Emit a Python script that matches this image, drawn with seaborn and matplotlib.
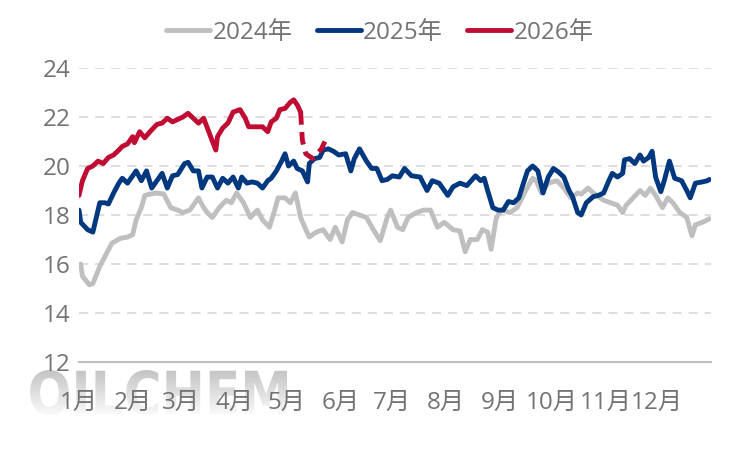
import numpy as np
import pandas as pd
import matplotlib
matplotlib.use('Agg')
import matplotlib.pyplot as plt
import seaborn as sns
from matplotlib.lines import Line2D
from matplotlib.textpath import TextPath
from matplotlib.patches import PathPatch
from matplotlib.font_manager import FontProperties
from matplotlib.transforms import Affine2D
from matplotlib.colors import LinearSegmentedColormap

# day of year (0 = 1 Jan) and values
days_2024 = [1, 2, 6, 8, 12, 16, 19, 24, 28, 31, 33, 36, 38, 41, 45, 49, 53, 57, 60, 64,
             69, 72, 74, 77, 81, 85, 88, 91, 95, 99, 103, 106, 110, 113, 115, 119, 122, 125,
             128, 131, 133, 137, 141, 145, 148, 152, 155, 158, 162, 166, 170, 174, 178, 180,
             184, 187, 190, 195, 199, 203, 207, 211, 216, 220, 223, 226, 230, 233, 236, 238,
             241, 244, 249, 253, 258, 262, 264, 267, 271, 276, 280, 284, 288, 290, 294, 297,
             299, 303, 307, 311, 314, 316, 320, 324, 327, 330, 333, 337, 340, 343, 347, 351,
             354, 356, 360, 363, 364]
vals_2024 = [16.0, 15.5, 15.15, 15.2, 15.9, 16.45, 16.85, 17.05, 17.1, 17.2, 17.8, 18.3, 18.8,
             18.85, 18.9, 18.85, 18.3, 18.2, 18.1, 18.2, 18.7, 18.3, 18.1, 17.9, 18.3, 18.6,
             18.5, 18.9, 18.5, 17.9, 18.2, 17.8, 17.5, 18.2, 18.7, 18.7, 18.5, 18.9, 17.9, 17.4,
             17.1, 17.3, 17.4, 17.0, 17.5, 16.9, 17.8, 18.1, 18.0, 17.9, 17.4, 16.95, 17.9, 18.2,
             17.5, 17.4, 17.9, 18.1, 18.2, 18.2, 17.5, 17.7, 17.4, 17.35, 16.5, 17.0, 17.0, 17.4,
             17.3, 16.6, 17.9, 18.2, 18.1, 18.3, 19.0, 19.5, 19.4, 18.9, 19.3, 19.4, 19.1, 18.7,
             18.9, 18.85, 19.1, 18.9, 18.8, 18.6, 18.5, 18.4, 18.1, 18.4, 18.7, 19.0, 18.8, 19.1,
             18.8, 18.3, 18.7, 18.5, 18.1, 17.9, 17.15, 17.6, 17.7, 17.8, 17.85]

days_2025 = [0, 1, 5, 8, 10, 12, 15, 17, 20, 23, 25, 28, 31, 33, 36, 39, 42, 46, 48, 51, 54,
             57, 61, 63, 66, 69, 71, 74, 77, 80, 83, 86, 89, 92, 94, 97, 100, 103, 106, 109,
             111, 114, 117, 119, 121, 124, 126, 129, 132, 133, 136, 139, 141, 144, 147, 150,
             154, 157, 159, 162, 166, 169, 172, 175, 178, 181, 185, 188, 192, 197, 201, 204,
             208, 213, 216, 220, 224, 229, 232, 234, 236, 239, 242, 245, 248, 251, 254, 256,
             259, 262, 265, 268, 271, 274, 277, 280, 283, 285, 288, 290, 293, 297, 300, 303,
             306, 308, 311, 314, 315, 318, 321, 324, 326, 329, 331, 333, 336, 338, 341, 344,
             348, 351, 353, 356, 360, 363, 364]
vals_2025 = [18.2, 17.7, 17.4, 17.3, 17.9, 18.5, 18.5, 18.45, 18.9, 19.3, 19.5, 19.3, 19.6,
             19.8, 19.4, 19.8, 19.1, 19.5, 19.7, 19.1, 19.6, 19.65, 20.1, 20.15, 19.8, 19.8,
             19.1, 19.55, 19.55, 19.1, 19.5, 19.3, 19.55, 19.1, 19.55, 19.3, 19.35, 19.3, 19.1,
             19.4, 19.5, 19.8, 20.2, 20.5, 20.0, 20.2, 19.9, 19.8, 19.35, 20.1, 20.3, 20.35,
             20.65, 20.7, 20.6, 20.45, 20.5, 19.8, 20.3, 20.7, 20.2, 19.9, 19.9, 19.4, 19.45,
             19.6, 19.55, 19.9, 19.6, 19.55, 19.0, 19.4, 19.3, 18.8, 19.15, 19.3, 19.2, 19.6,
             19.4, 19.5, 19.0, 18.3, 18.2, 18.2, 18.55, 18.5, 18.7, 19.15, 19.8, 20.0, 19.8,
             18.9, 19.55, 19.9, 19.75, 19.55, 19.0, 18.75, 18.1, 18.0, 18.5, 18.75, 18.8, 18.9,
             19.4, 19.7, 19.55, 19.7, 20.25, 20.3, 20.1, 20.45, 20.2, 20.35, 20.6, 19.55, 18.95,
             19.4, 20.2, 19.5, 19.4, 19.0, 18.7, 19.3, 19.35, 19.4, 19.45]

days_2026 = [0, 2, 5, 8, 11, 14, 17, 20, 23, 25, 28, 31, 32, 35, 38, 41, 45, 48, 51, 54, 57,
             60, 63, 66, 69, 72, 76, 79, 80, 83, 86, 89, 93, 96, 98, 102, 106, 109, 111, 114,
             116, 119, 122, 124, 126, 128]
vals_2026 = [18.8, 19.4, 19.9, 20.0, 20.2, 20.1, 20.35, 20.45, 20.65, 20.8, 20.9, 21.2, 20.95,
             21.4, 21.15, 21.4, 21.7, 21.75, 21.95, 21.8, 21.9, 22.0, 22.15, 21.95, 21.75, 21.95,
             21.2, 20.65, 21.2, 21.55, 21.75, 22.2, 22.3, 21.95, 21.6, 21.6, 21.6, 21.4, 21.8,
             21.95, 22.3, 22.35, 22.6, 22.7, 22.5, 22.2]

# 2026 forecast part (dashed)
days_2026_fc = [128, 129, 131, 135, 137, 140, 142]
vals_2026_fc = [22.2, 21.05, 20.5, 20.3, 20.45, 20.7, 21.0]

years = ['2024年', '2025年', '2026年']
colors = ['#BFBFBF', '#00387F', '#C00B32']
month_starts = [0, 31, 59, 90, 120, 151, 181, 212, 243, 273, 304, 334, 365]
month_labels = ['1月', '2月', '3月', '4月', '5月', '6月', '7月', '8月', '9月',
                '10月', '11月', '12月', '']

df = pd.concat([
    pd.DataFrame({'day': days_2024, 'value': vals_2024, 'year': years[0]}),
    pd.DataFrame({'day': days_2025, 'value': vals_2025, 'year': years[1]}),
    pd.DataFrame({'day': days_2026, 'value': vals_2026, 'year': years[2]}),
])

sns.set_style('white')
plt.rcParams['font.family'] = ['Open Sans', 'Noto Sans CJK SC', 'DejaVu Sans']
text_grey = '#737373'
fs = 17.5
lw = 3.5

fig = plt.figure(figsize=(7.51, 4.5), dpi=100)

# watermark behind everything
wm = fig.add_axes([0, 0, 1, 1], zorder=-1)
wm.axis('off')
tp = TextPath((0, 0), 'OILCHEM', size=60, prop=FontProperties(family='DejaVu Sans', weight='bold'))
bb = tp.get_extents()
tr = Affine2D().translate(-bb.x0, -bb.y0).scale(257 / bb.width, 45 / bb.height).translate(30, 35)
wm_patch = PathPatch(tr.transform_path(tp), facecolor='none', edgecolor='none')
wm.add_patch(wm_patch)
wm_cmap = LinearSegmentedColormap.from_list('wm', ['#C4C4C4', '#FAFAFA'])
im = wm.imshow(np.linspace(0, 1, 100).reshape(-1, 1), cmap=wm_cmap, origin='upper',
               extent=(30, 287, 35, 80), aspect='auto')
im.set_clip_path(wm_patch)
wm.set_xlim(0, 751)
wm.set_ylim(0, 450)

ax = fig.add_axes([79 / 751, 1 - 362 / 450, 632 / 751, 294 / 450])
ax.patch.set_alpha(0)

sns.lineplot(data=df, x='day', y='value', hue='year', palette=colors, hue_order=years,
             linewidth=lw, legend=False, ax=ax)
sns.lineplot(x=days_2026_fc, y=vals_2026_fc, color=colors[2], linewidth=lw,
             linestyle=(0, (2.6, 1.5)), ax=ax)

ax.set_xlim(0, 365)
ax.set_ylim(12, 24)
ax.set_yticks(range(12, 25, 2))
ax.set_xticks(month_starts)
ax.set_xticklabels(month_labels)
ax.set_xlabel('')
ax.set_ylabel('')

ax.yaxis.grid(True, linestyle=(0, (6, 4.5)), color='#D4D4D4', linewidth=1.1)
ax.xaxis.grid(False)
for s in ['left', 'right', 'top']:
    ax.spines[s].set_visible(False)
ax.spines['bottom'].set_color('#BFBFBF')
ax.spines['bottom'].set_linewidth(1.5)

ax.tick_params(axis='x', direction='in', length=5, width=1.2, color='#BFBFBF',
               labelsize=fs, labelcolor=text_grey, pad=21)
ax.tick_params(axis='y', length=0, labelsize=fs, labelcolor=text_grey, pad=6)

handles = [Line2D([], [], color=c, linewidth=lw) for c in colors]
fig.legend(handles, years, loc='center', bbox_to_anchor=(380 / 751, 1 - 33 / 450), ncol=3,
           frameon=False, fontsize=fs, handlelength=1.8, handletextpad=0.1,
           columnspacing=1.0, labelcolor=text_grey)

fig.savefig('out.png', dpi=100)
